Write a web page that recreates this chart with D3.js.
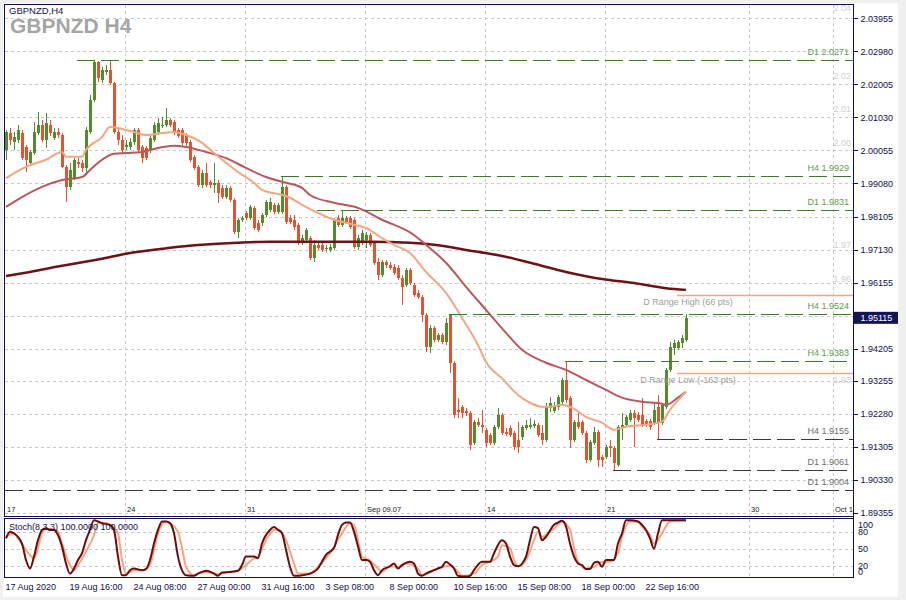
<!DOCTYPE html>
<html><head><meta charset="utf-8">
<script src="https://cdn.jsdelivr.net/npm/d3@7"></script>
<style>
html,body{margin:0;padding:0;background:#f0f0f0;}
svg{display:block;}
text{font-family:"Liberation Sans",Arial,sans-serif;}
</style></head><body>
<svg id="c" width="906" height="600"></svg>
<script>
// ---------------- DATA ----------------
const symbolTitle = "GBPNZD,H4";
const watermark = "GBPNZD H4";
const stochTitle = "Stoch(8,3,3) 100.0000 100.0000";

// H4 candles, [open, high, low, close], bar 0 = 17 Aug 2020 00:00
const candles = [
[2.0007,2.0066,1.9978,2.0060],[2.0057,2.0072,2.0022,2.0037],[2.0031,2.0060,2.0007,2.0045],[2.0037,2.0081,2.0028,2.0066],
[2.0057,2.0066,1.9978,1.9983],[2.0016,2.0022,1.9942,1.9978],[1.9969,2.0007,1.9963,2.0001],[1.9998,2.0090,1.9993,2.0060],
[2.0057,2.0119,2.0051,2.0081],[2.0081,2.0096,2.0031,2.0037],[2.0037,2.0116,2.0013,2.0087],[2.0081,2.0096,2.0048,2.0057],
[2.0042,2.0072,2.0037,2.0060],[2.0060,2.0072,2.0042,2.0051],[2.0051,2.0057,1.9954,1.9957],[1.9957,1.9963,1.9854,1.9898],
[1.9898,1.9969,1.9889,1.9948],[1.9924,1.9983,1.9919,1.9978],[1.9972,1.9983,1.9954,1.9966],[1.9969,1.9978,1.9942,1.9954],
[1.9954,2.0075,1.9933,2.0066],[2.0060,2.0169,2.0054,2.0155],[2.0155,2.0271,2.0149,2.0267],[2.0267,2.0270,2.0208,2.0219],
[2.0214,2.0252,2.0205,2.0243],[2.0237,2.0258,2.0228,2.0243],[2.0243,2.0271,2.0199,2.0205],[2.0205,2.0208,2.0054,2.0060],
[2.0060,2.0072,2.0022,2.0037],[2.0037,2.0051,1.9998,2.0007],[2.0016,2.0037,2.0007,2.0022],[2.0016,2.0042,2.0007,2.0031],
[2.0031,2.0072,2.0022,2.0066],[2.0066,2.0072,2.0001,2.0007],[2.0016,2.0022,1.9969,1.9983],[2.0013,2.0019,1.9978,1.9983],
[2.0007,2.0051,1.9998,2.0042],[2.0037,2.0090,2.0031,2.0081],[2.0060,2.0101,2.0051,2.0087],[2.0078,2.0104,2.0072,2.0081],
[2.0081,2.0131,2.0075,2.0096],[2.0096,2.0101,2.0075,2.0081],[2.0090,2.0096,2.0051,2.0057],[2.0066,2.0072,2.0042,2.0048],
[2.0066,2.0072,2.0022,2.0028],[2.0051,2.0057,2.0019,2.0028],[2.0031,2.0037,1.9972,1.9978],[1.9987,1.9993,1.9948,1.9954],
[1.9957,1.9963,1.9898,1.9904],[1.9904,1.9948,1.9895,1.9939],[1.9939,1.9969,1.9898,1.9904],[1.9913,1.9919,1.9895,1.9904],
[1.9904,1.9969,1.9880,1.9910],[1.9910,1.9919,1.9851,1.9880],[1.9895,1.9904,1.9862,1.9868],[1.9868,1.9904,1.9862,1.9895],
[1.9895,1.9901,1.9854,1.9860],[1.9860,1.9866,1.9759,1.9765],[1.9765,1.9806,1.9747,1.9801],[1.9801,1.9812,1.9795,1.9806],
[1.9821,1.9827,1.9801,1.9806],[1.9806,1.9845,1.9801,1.9839],[1.9836,1.9842,1.9771,1.9777],[1.9792,1.9801,1.9765,1.9771],
[1.9792,1.9821,1.9783,1.9815],[1.9815,1.9860,1.9809,1.9854],[1.9830,1.9866,1.9824,1.9854],[1.9845,1.9851,1.9818,1.9824],
[1.9824,1.9851,1.9818,1.9845],[1.9824,1.9929,1.9818,1.9898],[1.9898,1.9904,1.9789,1.9795],[1.9806,1.9815,1.9789,1.9795],
[1.9801,1.9815,1.9771,1.9780],[1.9786,1.9792,1.9727,1.9733],[1.9733,1.9756,1.9727,1.9747],[1.9742,1.9777,1.9736,1.9771],
[1.9747,1.9753,1.9682,1.9688],[1.9688,1.9742,1.9677,1.9727],[1.9727,1.9733,1.9712,1.9718],[1.9727,1.9733,1.9706,1.9712],
[1.9715,1.9727,1.9706,1.9718],[1.9712,1.9730,1.9706,1.9721],[1.9718,1.9806,1.9712,1.9801],[1.9806,1.9815,1.9780,1.9786],
[1.9786,1.9831,1.9780,1.9806],[1.9806,1.9812,1.9789,1.9795],[1.9806,1.9812,1.9774,1.9780],[1.9801,1.9806,1.9715,1.9721],
[1.9721,1.9756,1.9712,1.9747],[1.9733,1.9771,1.9727,1.9762],[1.9742,1.9765,1.9718,1.9756],[1.9756,1.9762,1.9721,1.9727],
[1.9733,1.9739,1.9668,1.9674],[1.9677,1.9689,1.9624,1.9638],[1.9638,1.9683,1.9632,1.9677],[1.9677,1.9683,1.9659,1.9668],
[1.9668,1.9677,1.9653,1.9659],[1.9662,1.9671,1.9638,1.9644],[1.9659,1.9668,1.9624,1.9629],[1.9629,1.9638,1.9549,1.9603],
[1.9609,1.9659,1.9603,1.9653],[1.9653,1.9659,1.9609,1.9615],[1.9609,1.9615,1.9573,1.9579],[1.9585,1.9594,1.9567,1.9573],
[1.9573,1.9579,1.9500,1.9520],[1.9520,1.9526,1.9411,1.9426],[1.9426,1.9491,1.9408,1.9482],[1.9482,1.9488,1.9441,1.9447],
[1.9447,1.9467,1.9441,1.9461],[1.9461,1.9467,1.9435,1.9441],[1.9441,1.9511,1.9432,1.9497],[1.9520,1.9524,1.9349,1.9379],
[1.9379,1.9385,1.9216,1.9225],[1.9240,1.9276,1.9216,1.9234],[1.9249,1.9255,1.9216,1.9231],[1.9237,1.9246,1.9222,1.9231],
[1.9231,1.9237,1.9122,1.9137],[1.9143,1.9211,1.9137,1.9205],[1.9205,1.9216,1.9190,1.9196],[1.9196,1.9240,1.9172,1.9190],
[1.9181,1.9187,1.9131,1.9143],[1.9166,1.9172,1.9137,1.9143],[1.9143,1.9196,1.9137,1.9190],[1.9190,1.9246,1.9184,1.9225],
[1.9225,1.9231,1.9166,1.9172],[1.9175,1.9187,1.9163,1.9169],[1.9187,1.9196,1.9160,1.9166],[1.9172,1.9178,1.9122,1.9131],
[1.9152,1.9205,1.9113,1.9131],[1.9160,1.9196,1.9152,1.9190],[1.9187,1.9210,1.9181,1.9196],[1.9190,1.9216,1.9184,1.9196],
[1.9193,1.9210,1.9187,1.9199],[1.9196,1.9202,1.9160,1.9166],[1.9172,1.9196,1.9137,1.9152],[1.9152,1.9261,1.9146,1.9249],
[1.9246,1.9279,1.9234,1.9261],[1.9237,1.9264,1.9231,1.9249],[1.9249,1.9285,1.9240,1.9279],[1.9264,1.9335,1.9258,1.9329],
[1.9329,1.9383,1.9261,1.9270],[1.9276,1.9282,1.9128,1.9152],[1.9152,1.9211,1.9146,1.9205],[1.9205,1.9231,1.9184,1.9190],
[1.9205,1.9211,1.9166,1.9172],[1.9172,1.9178,1.9083,1.9093],[1.9093,1.9152,1.9087,1.9146],[1.9143,1.9190,1.9137,1.9175],
[1.9175,1.9181,1.9072,1.9093],[1.9102,1.9108,1.9072,1.9093],[1.9102,1.9137,1.9096,1.9131],[1.9134,1.9152,1.9102,1.9128],
[1.9128,1.9134,1.9061,1.9084],[1.9078,1.9196,1.9072,1.9190],[1.9187,1.9231,1.9152,1.9196],[1.9196,1.9225,1.9190,1.9219],
[1.9210,1.9240,1.9205,1.9231],[1.9231,1.9240,1.9131,1.9216],[1.9225,1.9234,1.9205,1.9210],[1.9225,1.9276,1.9190,1.9196],
[1.9208,1.9213,1.9190,1.9196],[1.9208,1.9213,1.9181,1.9190],[1.9202,1.9261,1.9196,1.9240],[1.9249,1.9285,1.9155,1.9202],
[1.9202,1.9261,1.9196,1.9255],[1.9249,1.9364,1.9243,1.9358],[1.9358,1.9441,1.9352,1.9426],[1.9423,1.9446,1.9402,1.9438],
[1.9423,1.9446,1.9417,1.9441],[1.9438,1.9461,1.9423,1.9452],[1.9447,1.9524,1.9441,1.95115]
];

// moving averages: [bar, price]
const maFast = [[0,1.9924],[5,1.9957],[10,1.9978],[14,2.0001],[15,1.9987],[19,1.9987],[20,2.0007],[24,2.0045],[26,2.0075],[29,2.0069],
[32,2.0060],[35,2.0051],[39,2.0057],[42,2.0060],[45,2.0051],[49,2.0028],[52,1.9998],[58,1.9942],[62,1.9910],[64,1.9889],
[69,1.9874],[71,1.9866],[74,1.9845],[78,1.9821],[82,1.9801],[86,1.9789],[90,1.9777],[94,1.9747],[97,1.9727],[101,1.9703],
[105,1.9647],[110,1.9585],[114,1.9511],[118,1.9431],[120,1.9381],[124,1.9333],[128,1.9284],[131,1.9261],[134,1.9249],[136,1.9249],
[139,1.9255],[142,1.9243],[145,1.9219],[149,1.9202],[152,1.9181],[155,1.9190],[160,1.9196],[164,1.9205],[166,1.9240],[170,1.9293]];
const maMid = [[0,1.9839],[4,1.9868],[9,1.9898],[14,1.9918],[19,1.9927],[21,1.9948],[24,1.9978],[27,1.9996],[30,1.9998],[34,2.0001],
[37,2.0010],[42,2.0019],[45,2.0016],[50,2.0001],[55,1.9983],[60,1.9954],[65,1.9927],[70,1.9910],[74,1.9895],[76,1.9874],
[82,1.9851],[88,1.9836],[94,1.9801],[102,1.9756],[105,1.9727],[110,1.9674],[115,1.9603],[120,1.9535],[125,1.9467],[129,1.9417],
[135,1.9379],[140,1.9358],[145,1.9328],[150,1.9299],[154,1.9276],[159,1.9264],[164,1.9258],[165,1.9255],[168,1.9276],[170,1.9293]];
const maSlow = [[0,1.9635],[6,1.9647],[14,1.9665],[24,1.9686],[31,1.9703],[41,1.9718],[49,1.9727],[58,1.9733],[66,1.9736],[74,1.9736],
[84,1.9736],[91,1.9736],[101,1.9733],[107,1.9727],[115,1.9712],[124,1.9694],[132,1.9671],[140,1.9647],[149,1.9626],[157,1.9614],
[165,1.9599],[170,1.9594]];

// stochastic %K and %D: [bar, value]
const stochK = [[0,68],[1,80],[2,77],[4,59],[5,30],[6,15],[7,36],[8,65],[9,83],[10,86],[11,83],[12,83],[13,74],[14,54],[15,24],[16,6],[17,15],[18,30],[19,42],[20,65],[21,83],[22,100],[23,98],[24,95],[26,92],[27,83],[28,36],[29,3],[30,3],[31,12],[32,15],[34,12],[35,14],[36,30],[37,59],[38,83],[39,98],[40,98],[41,95],[42,77],[43,36],[44,12],[45,3],[47,2],[48,6],[49,9],[50,11],[52,6],[53,2],[54,8],[56,9],[58,11],[59,21],[60,36],[62,36],[63,33],[64,59],[66,83],[67,88],[68,83],[69,77],[70,48],[71,18],[72,2],[73,2],[74,3],[76,6],[78,15],[79,27],[80,39],[82,51],[83,74],[84,92],[85,96],[86,96],[87,80],[88,54],[89,30],[90,30],[91,27],[92,12],[93,3],[94,12],[96,19],[97,24],[98,15],[99,21],[101,27],[102,24],[103,6],[104,2],[105,6],[107,12],[108,15],[109,18],[110,27],[111,22],[112,15],[113,2],[115,1],[116,2],[117,12],[119,27],[120,27],[121,27],[122,42],[124,65],[125,59],[126,36],[127,21],[128,19],[130,36],[131,65],[132,88],[133,86],[134,65],[135,71],[137,92],[138,96],[139,99],[140,89],[141,59],[142,36],[143,24],[144,21],[145,14],[146,14],[147,25],[148,27],[149,18],[150,30],[152,30],[153,59],[154,77],[155,100],[156,100],[158,98],[159,92],[160,83],[161,68],[162,50],[163,77],[164,100],[166,100],[170,100]];
const stochD = [[0,71],[2,77],[3,68],[5,48],[7,33],[8,51],[9,77],[10,84],[12,84],[13,80],[14,59],[16,21],[17,12],[18,21],[20,45],[22,74],[23,95],[24,96],[26,92],[28,77],[29,30],[30,6],[32,12],[34,12],[36,21],[37,48],[38,77],[40,98],[41,95],[43,80],[44,51],[45,18],[47,3],[48,6],[50,9],[53,5],[55,8],[58,11],[60,21],[62,33],[63,36],[65,65],[67,83],[68,84],[70,65],[72,24],[73,6],[76,6],[78,18],[81,42],[84,77],[86,95],[87,92],[88,65],[89,36],[91,29],[93,15],[94,9],[96,19],[98,18],[100,24],[103,15],[104,3],[106,9],[108,15],[111,20],[113,9],[114,2],[117,6],[119,21],[121,27],[123,36],[124,56],[126,51],[127,30],[128,19],[130,30],[132,65],[133,80],[134,71],[136,80],[138,92],[139,98],[141,83],[142,51],[143,27],[145,15],[147,18],[149,27],[151,27],[153,42],[154,71],[156,98],[158,98],[159,89],[161,74],[162,59],[164,77],[166,98],[170,100]];

// support / resistance levels
const levelNames  = ["D1 2.0271","H4 1.9929","D1 1.9831","H4 1.9524","H4 1.9383","H4 1.9155","D1 1.9061","D1 1.9004"];
const levelPrices = [2.0271, 1.9929, 1.9831, 1.9524, 1.9383, 1.9155, 1.9061, 1.9004];
const levelStart  = [18, 69, 78, 111, 140, 163, 152, 0];
const levelType   = ["high","high","high","high","high","low","low","low"];

// daily range lines
const rangeNames  = ["D Range High (66 pts)", "D Range Low (-163 pts)"];
const rangePrices = [1.9579, 1.9350];
const rangeStart  = 168;

// axis values
const gridPrices = [2.03955,2.02980,2.02005,2.01030,2.00055,1.99080,1.98105,1.97130,1.96155,1.95180,1.94205,1.93255,1.92280,1.91305,1.90330,1.89355];
const priceTicks = [2.03955,2.02980,2.02005,2.01030,2.00055,1.99080,1.98105,1.97130,1.96155,1.94205,1.93255,1.92280,1.91305,1.90330,1.89355];
const lastPrice = 1.95115;
const roundLevels = [2.04, 2.02, 2.01, 2.00, 1.97, 1.96, 1.93];
const weekLabels = ["17","24","31","Sep 09.07","14","21","30","Oct 10"];
const weekIdx    = [0, 30, 60, 90, 120, 150, 186, 207];
const timeLabels = ["17 Aug 2020","19 Aug 16:00","24 Aug 08:00","27 Aug 00:00","31 Aug 16:00","3 Sep 08:00","8 Sep 00:00","10 Sep 16:00","15 Sep 08:00","18 Sep 00:00","22 Sep 16:00"];
const timeIdx    = [0,16,32,48,64,80,96,112,128,144,160];
const stochTicks = [100, 80, 50, 20, 0];
const stochGrid  = [80, 50, 20];

// ---------------- DRAW ----------------
const svg = d3.select("#c");
const L = 4.5, R = 853.5, T = 4.5, B = 516.5, ST = 518.5, SB = 577.5;
const navy = "#10104a";
const x = d3.scaleLinear().domain([0, 170]).range([6, 686]);
const y = d3.scaleLinear().domain([1.89355, 2.03955]).range([513, 18.3]);
const ys = d3.scaleLinear().domain([0, 100]).range([577, 520.3]);

svg.append("rect").attr("x",3).attr("y",3).attr("width",895).attr("height",594).attr("fill","#fff");

const defs = svg.append("defs");
defs.append("clipPath").attr("id","cm").append("rect").attr("x",5).attr("y",5).attr("width",848).attr("height",511);
defs.append("clipPath").attr("id","cs").append("rect").attr("x",5).attr("y",519).attr("width",848).attr("height",58);

const gm = svg.append("g").attr("clip-path","url(#cm)");
const gs = svg.append("g").attr("clip-path","url(#cs)");

// grid
gm.selectAll(".hg").data(gridPrices).join("line")
  .attr("x1",5).attr("x2",853).attr("y1",d=>Math.round(y(d))+0.5).attr("y2",d=>Math.round(y(d))+0.5)
  .attr("stroke","#c8c8c8").attr("stroke-dasharray","3,3");
[gm, gs].forEach((g, k) => {
  g.selectAll(".vg").data(weekIdx.slice(1)).join("line")
    .attr("x1",d=>Math.round(x(d))-0.5).attr("x2",d=>Math.round(x(d))-0.5)
    .attr("y1",k?519:5).attr("y2",k?577:516)
    .attr("stroke","#c8c8c8").attr("stroke-dasharray","3,3");
});
gs.selectAll(".sg").data(stochGrid).join("line")
  .attr("x1",5).attr("x2",853).attr("y1",d=>Math.round(ys(d))+0.5).attr("y2",d=>Math.round(ys(d))+0.5)
  .attr("stroke","#c8c8c8").attr("stroke-dasharray","3,3");

// round-number faint labels
gm.selectAll(".rl").data(roundLevels).join("text")
  .attr("x",851).attr("y",d=>y(d)-6).attr("text-anchor","end")
  .attr("font-size",9).attr("fill","#cfcfcf").text(d=>d.toFixed(2));

// week labels
gm.selectAll(".wl").data(weekIdx).join("text")
  .attr("x",d=>x(d)+1).attr("y",512).attr("font-size",7.5).attr("fill","#222")
  .text((d,i)=>weekLabels[i]);

// candles
const bull = "#558b2f", bear = "#e4532f";
const cg = gm.append("g").attr("shape-rendering","crispEdges");
cg.selectAll(".wk").data(candles).join("line")
  .attr("x1",(d,i)=>Math.round(x(i))+0.5).attr("x2",(d,i)=>Math.round(x(i))+0.5)
  .attr("y1",d=>y(d[1])).attr("y2",d=>y(d[2]))
  .attr("stroke",d=>d[3]>=d[0]?bull:bear).attr("stroke-width",1);
cg.selectAll(".bd").data(candles).join("rect")
  .attr("x",(d,i)=>Math.round(x(i))-1).attr("width",3)
  .attr("y",d=>y(Math.max(d[0],d[3])))
  .attr("height",d=>Math.max(1, y(Math.min(d[0],d[3]))-y(Math.max(d[0],d[3]))))
  .attr("fill",d=>d[3]>=d[0]?bull:bear);

// moving averages
const line = d3.line().x(d=>x(d[0])).y(d=>y(d[1])).curve(d3.curveMonotoneX);
gm.append("path").attr("d",line(maSlow)).attr("fill","none").attr("stroke","#6e1216").attr("stroke-width",2.5);
gm.append("path").attr("d",line(maMid)).attr("fill","none").attr("stroke","#b9575c").attr("stroke-width",2);
gm.append("path").attr("d",line(maFast)).attr("fill","none").attr("stroke","#f4a582").attr("stroke-width",2);

// levels
levelPrices.forEach((p,i) => {
  const hi = levelType[i] === "high";
  const yy = Math.round(y(p)) + 0.5;
  gm.append("line").attr("x1",Math.max(5, x(levelStart[i])-1)).attr("x2",853).attr("y1",yy).attr("y2",yy)
    .attr("stroke",hi?"#3a7a28":"#3a3a3a").attr("stroke-width",1.2).attr("stroke-dasharray","18,6");
  gm.append("text").attr("x",849).attr("y",yy-5.5).attr("text-anchor","end").attr("font-size",9)
    .attr("fill",hi?"#5e9a48":"#6e6e6e").text(levelNames[i]);
});

// range lines
rangePrices.forEach((p,i) => {
  const yy = Math.round(y(p)) + 0.5;
  gm.append("line").attr("x1",x(rangeStart)-1).attr("x2",853).attr("y1",yy).attr("y2",yy)
    .attr("stroke","#f4a582").attr("stroke-width",1.6);
  gm.append("text").attr("x",x(170)+2).attr("y",yy+9).attr("text-anchor","middle").attr("font-size",9)
    .attr("fill","#a0a0a0").text(rangeNames[i]);
});

// stochastic
const sline = d3.line().x(d=>x(d[0])).y(d=>ys(d[1])).curve(d3.curveMonotoneX);
gs.append("path").attr("d",sline(stochD)).attr("fill","none").attr("stroke","#f4a582").attr("stroke-width",2);
gs.append("path").attr("d",sline(stochK)).attr("fill","none").attr("stroke","#6e0b0b").attr("stroke-width",2);

// titles
svg.append("text").attr("x",9).attr("y",14).attr("font-size",9.5).attr("fill",navy).text(symbolTitle);
svg.append("text").attr("x",10).attr("y",33).attr("font-size",21).attr("font-weight","bold").attr("fill","#a5a5a5").text(watermark);
svg.append("text").attr("x",9).attr("y",530).attr("font-size",9).attr("fill",navy).text(stochTitle);

// frames
svg.append("rect").attr("x",L).attr("y",T).attr("width",R-L).attr("height",B-T).attr("fill","none").attr("stroke",navy);
svg.append("rect").attr("x",L).attr("y",ST).attr("width",R-L).attr("height",SB-ST).attr("fill","none").attr("stroke",navy);

// price axis
const ax = svg.append("g").attr("transform",`translate(${R},0)`)
  .call(d3.axisRight(y).tickValues(priceTicks).tickSize(4).tickPadding(3).tickFormat(d=>d.toFixed(5)));
ax.select(".domain").remove();
ax.selectAll("line").attr("stroke",navy).attr("shape-rendering","crispEdges");
ax.selectAll("text").attr("font-size",9).attr("fill",navy).attr("font-family","Liberation Sans, Arial, sans-serif");
svg.append("line").attr("x1",R).attr("x2",R).attr("y1",T).attr("y2",SB).attr("stroke",navy);

// current price box
const ly = y(lastPrice);
svg.append("rect").attr("x",854).attr("y",ly-6).attr("width",44).attr("height",12).attr("fill","#14145a");
svg.append("text").attr("x",860.5).attr("y",ly+3.3).attr("font-size",9).attr("fill","#fff").text(lastPrice.toFixed(5));

// stochastic scale
svg.selectAll(".st").data(stochTicks).join("text")
  .attr("x",858).attr("y",d=>Math.min(575, Math.max(528, ys(d)+3.2))).attr("font-size",9).attr("fill",navy)
  .text(d=>d);

// time axis
const tx = svg.append("g").attr("transform",`translate(0,${SB})`)
  .call(d3.axisBottom(x).tickValues(timeIdx).tickSize(0).tickPadding(6).tickFormat((d,i)=>timeLabels[i]));
tx.select(".domain").remove();
tx.selectAll("text").attr("text-anchor","start").attr("dx",-1).attr("font-size",9).attr("fill",navy)
  .attr("font-family","Liberation Sans, Arial, sans-serif");
</script>
</body></html>
